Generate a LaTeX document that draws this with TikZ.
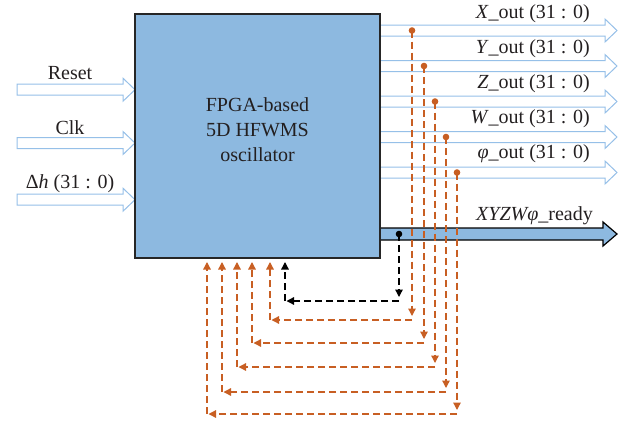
\documentclass[tikz,border=0pt]{standalone}
\usepackage{fontspec}
\setmainfont{Liberation Serif}
\usetikzlibrary{arrows.meta}

\definecolor{boxblue}{RGB}{141,185,224}
\definecolor{lineblue}{RGB}{150,192,232}
\definecolor{fbkorange}{RGB}{200,95,35}
\definecolor{inktext}{RGB}{35,31,32}

% hollow bus arrow: tail x, centre y, tip x
\newcommand\busarrow[3]{%
  \draw[busline] (#1,{#2-5.5}) -- ({#3-12},{#2-5.5}) -- ({#3-12},{#2-11.5})
    -- (#3,#2) -- ({#3-12},{#2+11.5}) -- ({#3-12},{#2+5.5}) -- (#1,{#2+5.5}) -- cycle;}

\tikzset{
  busline/.style={draw=lineblue, line width=1pt, fill=white, line join=miter},
  lab/.style={font=\fontsize{20}{25}\selectfont, text=inktext, inner sep=0pt},
  fbline/.style={line width=1.3pt, dash pattern=on 7pt off 4pt,
    -{Triangle[length=7.5pt,width=7.5pt]}},
  tapdot/.style={radius=3.3pt},
}

\begin{document}
\begin{tikzpicture}[x=1pt, y=-1pt]
\useasboundingbox (0,0) rectangle (627,424);

% input buses
\busarrow{17}{89.7}{135}
\busarrow{17}{143}{135}
\busarrow{17}{199.7}{135}
\node[lab, anchor=base] (lreset) at (70,79) {Reset};
\node[lab, anchor=base] (lclk) at (70,134) {Clk};
\node[lab, anchor=base] (ldh) at (70,188.5) {Δ\textit{h} (31 : 0)};

% output buses
\busarrow{379}{30.5}{617}
\busarrow{379}{66}{617}
\busarrow{379}{101.5}{617}
\busarrow{379}{137}{617}
\busarrow{379}{172.5}{617}
\node[lab, anchor=base east] (lx) at (590,18.5) {\textit{X}\_out (31 : 0)};
\node[lab, anchor=base east] (ly) at (590,53.5) {\textit{Y}\_out (31 : 0)};
\node[lab, anchor=base east] (lz) at (590,88.5) {\textit{Z}\_out (31 : 0)};
\node[lab, anchor=base east] (lw) at (590,123.5) {\textit{W}\_out (31 : 0)};
\node[lab, anchor=base east] (lp) at (590,158.5) {\textit{φ}\_out (31 : 0)};

% ready flag
\draw[fill=boxblue, draw=black, line width=1.2pt, line join=miter]
  (379,228) -- (603,228) -- (603,222) -- (617,234) -- (603,246) -- (603,240) -- (379,240) -- cycle;
\node[lab, anchor=base east] (lready) at (593,220) {\textit{XYZWφ}\_ready};

% oscillator block
\node[draw=black!85, line width=1.2pt, fill=boxblue, minimum width=245pt,
  minimum height=244pt, anchor=north west, inner sep=0pt, outer sep=0pt] (osc) at (135,14) {};
\node[lab, align=center] (osctext) at (257.5,130) {FPGA-based\\5D HFWMS\\oscillator};

% feedback taps from the outputs back into the block
\foreach \n/\x/\y/\yh/\xl in {X/412/30.5/320/270, Y/424/66/343/252,
    Z/435/101.5/367/237, W/446/137/392/222, P/457/172.5/414/207} {
  \coordinate (t\n) at (\x,\y);
  \coordinate (d\n) at (\x,\yh);
  \coordinate (l\n) at (\xl,\yh);
  \draw[fbline, fbkorange, shorten >=4pt] (t\n) -- (d\n);
  \draw[fbline, fbkorange, shorten >=1.5pt] (d\n) -- (l\n);
  \draw[fbline, fbkorange, shorten >=4pt] (l\n) -- (osc.south -| l\n);
  \fill[fbkorange] (t\n) circle[tapdot];
}

% ready tap
\coordinate (tR) at (399,234);
\coordinate (dR) at (399,301);
\coordinate (lR) at (285,301);
\draw[fbline, black, shorten >=4pt] (tR) -- (dR);
\draw[fbline, black, shorten >=1.5pt] (dR) -- (lR);
\draw[fbline, black, shorten >=4pt] (lR) -- (osc.south -| lR);
\fill[black] (tR) circle[tapdot];
\end{tikzpicture}
\end{document}
